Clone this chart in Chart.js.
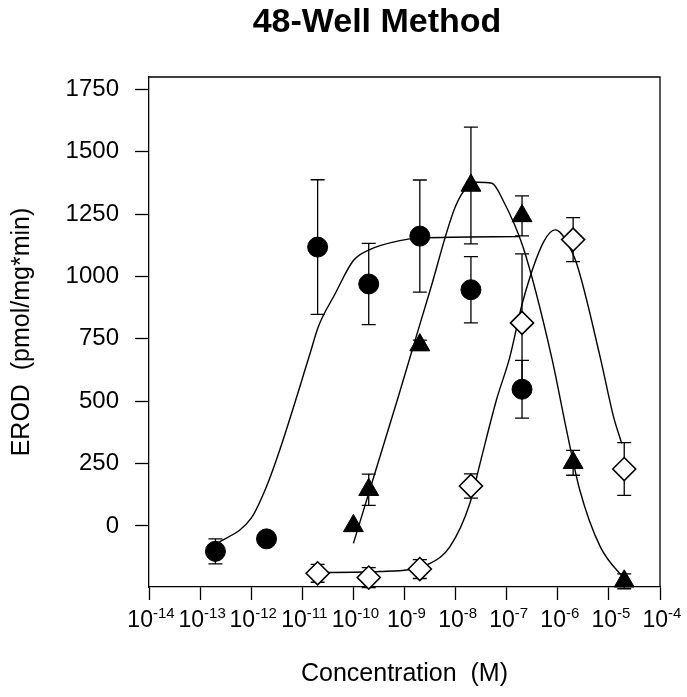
<!DOCTYPE html>
<html lang="en">
<head>
    <meta charset="UTF-8">
    <title>48-Well Method</title>
    <script src="https://cdn.jsdelivr.net/npm/chart.js"></script>
    <style>
        body {
            margin: 0;
            overflow: hidden;
            background: #fff;
            font-family: "Liberation Sans", Arial, sans-serif;
        }

        #wrap {
            position: relative;
            width: 687px;
            height: 697px;
        }

        #title {
            position: absolute;
            left: 377px;
            top: 4px;
            transform: translateX(-50%);
            white-space: nowrap;
            font-size: 34px;
            line-height: 33px;
            font-weight: bold;
            color: #000;
        }
    </style>
</head>
<body>
    <div id="wrap">
        <div id="title">48-Well Method</div>
        <canvas id="erodChart" width="687" height="697"></canvas>
    </div>

    <script>
        // concentrations are stored as log10(M)
        const xTickExp = [-14, -13, -12, -11, -10, -9, -8, -7, -6, -5, -4];
        const yTickValues = [0, 250, 500, 750, 1000, 1250, 1500, 1750];

        // filled circles
        const circleX = [-12.7, -11.7, -10.7, -9.7, -8.7, -7.7, -6.7];
        const circleY = [-102, -52, 1118, 970, 1162, 947, 548];
        const circleErr = [50, 12, 270, 163, 225, 133, 116];

        // filled triangles
        const triangleX = [-10.0, -9.7, -8.7, -7.7, -6.7, -5.7, -4.7];
        const triangleY = [0, 145, 725, 1365, 1243, 253, -222];
        const triangleErr = [0, 63, 20, 234, 80, 50, 30];

        // open diamonds
        const diamondX = [-10.7, -9.7, -8.7, -7.7, -6.7, -5.7, -4.7];
        const diamondY = [-190, -207, -173, 160, 814, 1148, 228];
        const diamondErr = [36, 40, 38, 49, 277, 88, 106];

        // fitted curves
        const circleFitX = [-12.7, -12.0, -11.7, -11.44, -10.85, -10.69, -10.36, -10.0, -9.69, -9.09, -8.7, -6.75];
        const circleFitY = [-75, 31, 158, 305, 690, 797, 930, 1064, 1107, 1144, 1154, 1160];

        const triangleFitX = [-10.0, -9.58, -9.12, -8.73, -8.5, -7.98, -7.59, -7.29, -7.07, -6.68, -6.12, -5.83, -5.57, -5.17, -4.68];
        const triangleFitY = [-70, 211, 519, 787, 944, 1292, 1378, 1374, 1305, 1118, 676, 385, 144, -83, -217];

        const diamondFitX = [-10.69, -9.48, -8.5, -8.11, -7.72, -7.52, -7.2, -6.94, -6.68, -6.28, -6.05, -5.96, -5.86, -5.63, -5.17, -4.91, -4.75];
        const diamondFitY = [-187, -183, -150, -83, 91, 252, 506, 676, 904, 1138, 1187, 1178, 1151, 1051, 676, 438, 331];

        const FONT = '"Liberation Sans", Arial, sans-serif';

        function pts(xs, ys) {
            return xs.map((e, i) => ({ x: Math.pow(10, e), y: ys[i] }));
        }

        const errorSets = [
            { x: circleX, y: circleY, err: circleErr },
            { x: triangleX, y: triangleY, err: triangleErr },
            { x: diamondX, y: diamondY, err: diamondErr }
        ];

        // error bars, box frame and superscript x labels
        const extras = {
            id: 'extras',
            beforeDatasetsDraw(chart) {
                const ctx = chart.ctx;
                const xs = chart.scales.x;
                const ys = chart.scales.y;
                ctx.save();
                ctx.strokeStyle = '#000';
                ctx.lineWidth = 1.3;
                errorSets.forEach(s => {
                    s.x.forEach((e, i) => {
                        if (!s.err[i]) return;
                        const px = xs.getPixelForValue(Math.pow(10, e));
                        const top = ys.getPixelForValue(s.y[i] + s.err[i]);
                        const bot = ys.getPixelForValue(s.y[i] - s.err[i]);
                        ctx.beginPath();
                        ctx.moveTo(px, top);
                        ctx.lineTo(px, bot);
                        ctx.moveTo(px - 7, top);
                        ctx.lineTo(px + 7, top);
                        ctx.moveTo(px - 7, bot);
                        ctx.lineTo(px + 7, bot);
                        ctx.stroke();
                    });
                });
                const a = chart.chartArea;
                ctx.beginPath();
                ctx.moveTo(a.left, a.top);
                ctx.lineTo(a.right, a.top);
                ctx.lineTo(a.right, a.bottom);
                ctx.stroke();
                ctx.restore();
            },
            afterDraw(chart) {
                const ctx = chart.ctx;
                const xs = chart.scales.x;
                ctx.save();
                ctx.fillStyle = '#000';
                ctx.textBaseline = 'alphabetic';
                ctx.textAlign = 'left';
                xTickExp.forEach(e => {
                    const px = xs.getPixelForValue(Math.pow(10, e));
                    ctx.font = '23px ' + FONT;
                    const w1 = ctx.measureText('10').width;
                    ctx.font = '15px ' + FONT;
                    const w2 = ctx.measureText(String(e)).width;
                    const x0 = px - (w1 + w2) / 2 + 2;
                    ctx.font = '23px ' + FONT;
                    ctx.fillText('10', x0, 627);
                    ctx.font = '15px ' + FONT;
                    ctx.fillText(String(e), x0 + w1, 618);
                });
                ctx.restore();
            }
        };

        const markerBase = { showLine: false, clip: false, borderColor: '#000' };
        const curveBase = {
            showLine: true, pointRadius: 0, borderColor: '#000', borderWidth: 1.4,
            cubicInterpolationMode: 'monotone', fill: false
        };

        new Chart(document.getElementById('erodChart').getContext('2d'), {
            type: 'scatter',
            data: {
                datasets: [
                    Object.assign({}, markerBase, {
                        data: pts(circleX, circleY), pointStyle: 'circle', pointRadius: 10,
                        backgroundColor: '#000', borderWidth: 1
                    }),
                    Object.assign({}, markerBase, {
                        data: pts(triangleX, triangleY), pointStyle: 'triangle', pointRadius: 11.5,
                        backgroundColor: '#000', borderWidth: 1
                    }),
                    Object.assign({}, markerBase, {
                        data: pts(diamondX, diamondY), pointStyle: 'rectRot', pointRadius: 11.5,
                        backgroundColor: '#fff', borderWidth: 1.6
                    }),
                    Object.assign({}, curveBase, { data: pts(circleFitX, circleFitY) }),
                    Object.assign({}, curveBase, { data: pts(triangleFitX, triangleFitY) }),
                    Object.assign({}, curveBase, { data: pts(diamondFitX, diamondFitY) })
                ]
            },
            options: {
                responsive: false,
                animation: false,
                layout: { padding: { top: 77, right: 27, bottom: 0, left: 0 } },
                plugins: {
                    legend: { display: false },
                    tooltip: { enabled: false },
                    title: { display: false }
                },
                scales: {
                    x: {
                        type: 'logarithmic',
                        min: 1e-14,
                        max: 1e-4,
                        afterBuildTicks: s => { s.ticks = xTickExp.map(e => ({ value: Math.pow(10, e) })); },
                        afterFit: s => { s.height = 110; },
                        ticks: { display: false },
                        grid: { display: true, drawOnChartArea: false, drawTicks: true, tickLength: 13, tickColor: '#000', tickWidth: 1.3 },
                        border: { display: true, color: '#000', width: 1.3 },
                        title: {
                            display: true, text: 'Concentration  (M)', color: '#000',
                            font: { family: FONT, size: 25 }, padding: { top: 0, bottom: 8 }
                        }
                    },
                    y: {
                        min: -245,
                        max: 1800,
                        afterBuildTicks: s => { s.ticks = yTickValues.map(v => ({ value: v })); },
                        afterFit: s => { s.width = 149; },
                        ticks: {
                            color: '#000', padding: 16, font: { family: FONT, size: 24 },
                            callback: v => String(v)
                        },
                        grid: { display: true, drawOnChartArea: false, drawTicks: true, tickLength: 14, tickColor: '#000', tickWidth: 1.3 },
                        border: { display: true, color: '#000', width: 1.3 },
                        title: {
                            display: true, text: 'EROD  (pmol/mg*min)', color: '#000',
                            font: { family: FONT, size: 25 }, padding: { top: 7, bottom: 0 }
                        }
                    }
                }
            },
            plugins: [extras]
        });
    </script>
</body>
</html>
